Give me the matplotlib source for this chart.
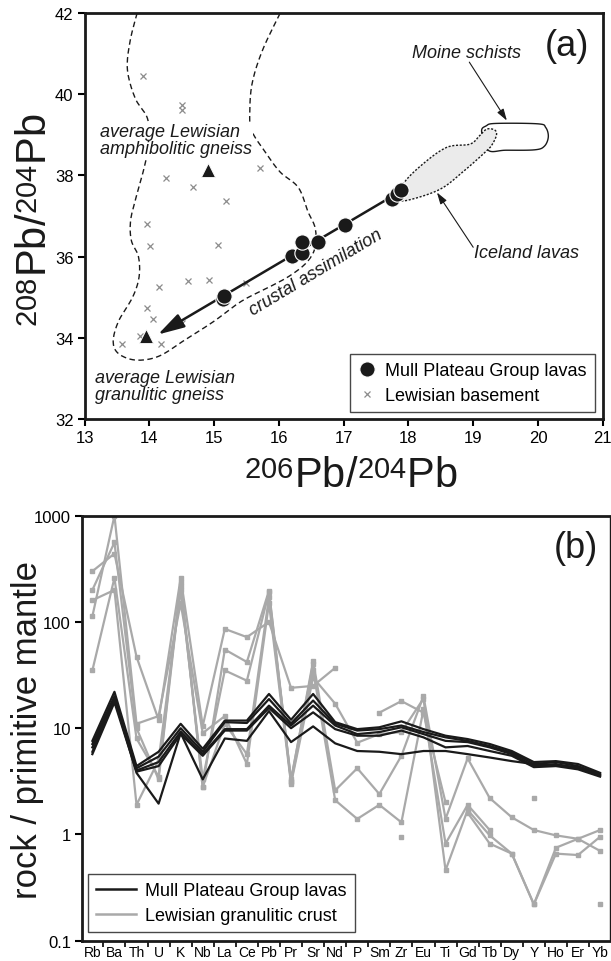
import numpy as np
import matplotlib
matplotlib.use('Agg')
import matplotlib.pyplot as plt
from matplotlib.ticker import FixedLocator, NullLocator, NullFormatter
import matplotlib._mathtext as _mt

plt.rcParams['font.family'] = ['Liberation Sans', 'DejaVu Sans']
plt.rcParams['mathtext.fontset'] = 'custom'
plt.rcParams['mathtext.rm'] = 'Liberation Sans'
plt.rcParams['mathtext.it'] = 'Liberation Sans:italic'
plt.rcParams['mathtext.default'] = 'regular'
# lower the superscripts so the isotope numbers sit level with the letters
_mt.FontConstantsBase.sup1 = 0.35
_mt.DejaVuSansFontConstants.sup1 = 0.35

nan = np.nan

# ---------------- panel (a) data ----------------
mull_x = [15.13, 15.15, 16.20, 16.35, 16.35, 16.61, 17.02, 17.74, 17.82, 17.89]
mull_y = [34.95, 35.02, 36.01, 36.10, 36.37, 36.37, 36.78, 37.42, 37.55, 37.65]

lewis_x = [13.90, 14.51, 14.51, 14.26, 14.68, 15.71, 15.18, 13.96, 14.01, 15.06,
           14.15, 14.59, 14.92, 15.49, 13.96, 14.05, 14.50, 13.85, 13.57, 14.18]
lewis_y = [40.44, 39.73, 39.61, 37.94, 37.72, 38.17, 37.37, 36.81, 36.27, 36.29,
           35.24, 35.41, 35.43, 35.35, 34.73, 34.47, 34.36, 34.04, 33.85, 33.85]

avg_x = [14.91, 13.94]
avg_y = [38.14, 34.04]

lewis_field_x = [13.81, 13.70, 13.66, 13.78, 13.97, 13.99, 13.92, 13.80, 13.71, 13.72, 13.83,
                 13.84, 13.74, 13.52, 13.44, 13.53, 13.80, 14.15, 14.55, 14.99, 15.42, 15.85,
                 16.17, 16.43, 16.56, 16.56, 16.45, 16.30, 16.02, 15.80, 15.58, 15.55, 15.59,
                 15.75, 16.02]
lewis_field_y = [42.0, 41.3, 40.6, 39.9, 39.4, 38.8, 38.2, 37.5, 36.9, 36.4, 36.0,
                 35.5, 35.0, 34.4, 33.9, 33.6, 33.45, 33.55, 33.95, 34.40, 34.90, 35.25,
                 35.53, 35.86, 36.23, 36.70, 37.10, 37.70, 38.08, 38.55, 39.10, 39.60, 40.30,
                 41.10, 42.0]

iceland_x = [17.87, 17.92, 18.20, 18.59, 18.95, 19.10, 19.21, 19.33, 19.36, 19.30, 19.21, 18.85, 18.49, 18.02]
iceland_y = [37.42, 37.79, 38.25, 38.69, 38.77, 38.98, 39.14, 39.12, 39.00, 38.78, 38.61, 38.10, 37.66, 37.40]

moine_x = [19.13, 19.20, 19.35, 20.00, 20.12, 20.16, 20.10, 19.95, 19.50, 19.23]
moine_y = [39.08, 39.22, 39.28, 39.27, 39.18, 38.95, 38.72, 38.63, 38.62, 38.62]

trend_start = (17.85, 37.58)
trend_end = (14.13, 34.08)

# ---------------- panel (b) data ----------------
elements = ['Rb', 'Ba', 'Th', 'U', 'K', 'Nb', 'La', 'Ce', 'Pb', 'Pr', 'Sr', 'Nd',
            'P', 'Sm', 'Zr', 'Eu', 'Ti', 'Gd', 'Tb', 'Dy', 'Y', 'Ho', 'Er', 'Yb']

mull_1 = [7.6, 22, 4.4, 6.0, 11, 6.4, 11.8, 11.8, 21, 12, 21, 11.4, 9.8, 10.2, 11.6, 9.8, 8.5, 7.9, 7.1, 6.1, 4.8, 4.9, 4.6, 3.8]
mull_2 = [7.1, 20, 4.2, 5.4, 10, 6.0, 11.4, 11.2, 18.8, 11.1, 18.2, 11.0, 9.5, 9.8, 10.6, 9.2, 8.2, 7.6, 6.8, 5.9, 4.6, 4.8, 4.4, 3.7]
mull_3 = [6.6, 19, 4.0, 4.8, 9.3, 5.7, 9.8, 9.8, 16.3, 10.6, 16.3, 10.6, 8.8, 9.2, 10.2, 8.8, 7.6, 7.4, 6.6, 5.7, 4.4, 4.6, 4.2, 3.6]
mull_4 = [5.7, 17.5, 3.9, 4.4, 8.8, 5.5, 9.5, 9.5, 15.5, 10.0, 14.1, 9.8, 8.5, 8.5, 9.5, 8.2, 6.6, 6.8, 6.1, 5.5, 4.3, 4.4, 4.1, 3.5]
mull_5 = [6.0, 19, 3.8, 1.95, 9.0, 3.3, 8.0, 7.6, 14.5, 7.4, 10.4, 7.2, 6.1, 6.0, 5.7, 6.1, 6.1, 5.7, 5.3, 4.9, 4.6, 4.5, 4.3, 3.6]

lew_1 = [300, 440, 47, 12, 260, 10.5, 86, 72, 100, 24, 25, 37, nan, 14, 18, 14, 2.0, nan, nan, nan, 2.2, nan, nan, nan]
lew_2 = [200, 560, 10, 3.3, 220, 2.8, 55, 42, 197, 3.2, 43, 2.6, 4.2, 2.4, 5.5, 20, 1.4, 5.2, 2.2, 1.45, 1.1, 0.98, 0.91, 0.70]
lew_3 = [160, 200, 1.9, 5.0, 200, 3.3, 35, 28, 190, 3.1, 35, 2.1, 1.4, 1.9, 1.3, 15, 0.82, 1.9, 1.1, nan, nan, nan, nan, 0.22]
lew_4 = [113, 1000, 11, 13, 150, 9.0, 13, 4.6, 150, 3.0, 30, 17, 7.3, 8.8, 9.2, 19, 0.46, 1.7, 0.98, 0.66, 0.22, 0.75, 0.91, 1.1]
lew_5 = [35, 260, 8.0, 3.5, 240, 2.8, 11, 5.7, 170, 3.3, 40, nan, nan, nan, 0.94, nan, nan, 1.6, 0.82, 0.66, 0.22, 0.66, 0.64, 0.95]

mull_series = [mull_1, mull_2, mull_3, mull_4, mull_5]
lew_series = [lew_1, lew_2, lew_3, lew_4, lew_5]

BLACK = '#1a1a1a'
GREY = '#a9a9a9'


def catmull(xs, ys, closed=False, n=10):
    P = np.column_stack([xs, ys]).astype(float)
    if closed:
        P = np.vstack([P[-1], P, P[0], P[1]])
    else:
        P = np.vstack([P[0], P, P[-1]])
    out = []
    for i in range(1, len(P) - 2):
        p0, p1, p2, p3 = P[i - 1], P[i], P[i + 1], P[i + 2]
        for t in np.linspace(0, 1, n, endpoint=False):
            t2 = t * t
            t3 = t2 * t
            out.append(0.5 * (2 * p1 + (-p0 + p2) * t + (2 * p0 - 5 * p1 + 4 * p2 - p3) * t2
                              + (-p0 + 3 * p1 - 3 * p2 + p3) * t3))
    out.append(P[-2])
    out = np.array(out)
    return out[:, 0], out[:, 1]


W, H = 611, 962
fig = plt.figure(figsize=(W / 100, H / 100), dpi=100)

# ================= panel (a) =================
axa = fig.add_axes([84.7 / W, 1 - 420 / H, (602.7 - 84.7) / W, (420 - 14) / H])
axa.set_xlim(13, 21)
axa.set_ylim(32, 42)
axa.xaxis.set_major_locator(FixedLocator(range(13, 22)))
axa.yaxis.set_major_locator(FixedLocator(range(32, 43, 2)))
axa.tick_params(direction='out', length=5, width=1.5, labelsize=12, pad=3)
for s in axa.spines.values():
    s.set_linewidth(2.0)
    s.set_color(BLACK)

# Lewisian field (dashed)
fx, fy = catmull(lewis_field_x, lewis_field_y, closed=False, n=10)
axa.plot(fx, fy, color=BLACK, lw=1.0, ls=(0, (4, 2.5)), zorder=1)

# Moine schists field
mx, my = catmull(moine_x, moine_y, closed=True, n=10)
axa.fill(mx, my, facecolor='white', edgecolor=BLACK, lw=1.0, zorder=1)
# Iceland lavas field
ix, iy = catmull(iceland_x, iceland_y, closed=True, n=10)
axa.fill(ix, iy, facecolor='#ebebeb', edgecolor=BLACK, lw=1.0, ls=(0, (1.5, 1.2)), zorder=1.5)

# Lewisian basement crosses
axa.plot(lewis_x, lewis_y, ls='none', marker='x', ms=5, mew=0.9, color='#8c8c8c', zorder=2)

# crustal assimilation trend arrow
axa.annotate('', xy=trend_end, xytext=trend_start,
             arrowprops=dict(arrowstyle='-|>,head_length=1.6,head_width=0.45', lw=1.8,
                             color=BLACK, shrinkA=0, shrinkB=0), zorder=3)

# averages
axa.plot(avg_x, avg_y, ls='none', marker='^', ms=10, color=BLACK, mec='white', mew=0.6, zorder=4)
# Mull lavas
axa.plot(mull_x, mull_y, ls='none', marker='o', ms=11, color=BLACK, mec='white', mew=0.8, zorder=5)

txt_kw = dict(fontsize=13, style='italic', color=BLACK)
axa.text(13.24, 38.87, 'average Lewisian\namphibolitic gneiss', ha='left', va='center',
         linespacing=1.05, bbox=dict(facecolor='white', edgecolor='none', pad=0.5), zorder=3, **txt_kw)
axa.text(13.16, 32.81, 'average Lewisian\ngranulitic gneiss', ha='left', va='center',
         linespacing=1.05, zorder=3, **txt_kw)
axa.text(16.57, 35.61, 'crustal assimilation', ha='center', va='center', rotation=31,
         rotation_mode='anchor', zorder=3, **txt_kw)
axa.text(18.9, 41.03, 'Moine schists', ha='center', va='center', zorder=3, **txt_kw)
axa.text(19.83, 36.11, 'Iceland lavas', ha='center', va='center', zorder=3, **txt_kw)
axa.annotate('', xy=(19.52, 39.35), xytext=(18.94, 40.79),
             arrowprops=dict(arrowstyle='-|>,head_length=0.7,head_width=0.22', lw=0.8,
                             color=BLACK, shrinkA=0, shrinkB=0))
axa.annotate('', xy=(18.44, 37.58), xytext=(19.0, 36.23),
             arrowprops=dict(arrowstyle='-|>,head_length=0.7,head_width=0.22', lw=0.8,
                             color=BLACK, shrinkA=0, shrinkB=0))
axa.text(20.45, 41.2, '(a)', ha='center', va='center', fontsize=26, color=BLACK)

h1, = axa.plot([], [], ls='none', marker='o', ms=11, color=BLACK, mec='white', mew=0.8)
h2, = axa.plot([], [], ls='none', marker='x', ms=5, mew=0.9, color='#8c8c8c')
leg = axa.legend([h1, h2], ['Mull Plateau Group lavas', 'Lewisian basement'],
                 loc='lower right', bbox_to_anchor=(0.985, 0.0165), borderaxespad=0,
                 fontsize=13, frameon=True, fancybox=False, handlelength=1.0,
                 handletextpad=0.5, labelspacing=0.45, borderpad=0.45)
leg.get_frame().set_edgecolor(BLACK)
leg.get_frame().set_linewidth(1.0)

fig.text(46 / W, 1 - 220 / H, r'$^{208}$Pb/$^{204}$Pb', rotation=90, rotation_mode='anchor',
         ha='center', va='baseline', fontsize=30, color=BLACK)
fig.text(351 / W, 1 - 487 / H, r'$^{206}$Pb/$^{204}$Pb', ha='center', va='baseline',
         fontsize=30, color=BLACK)

# ================= panel (b) =================
axb = fig.add_axes([82 / W, 1 - 941.7 / H, (610 - 82) / W, (941.7 - 516.7) / H])
axb.set_yscale('log')
axb.set_ylim(0.1, 1000)
xpos = np.arange(len(elements))
axb.set_xlim(-0.47, 23.45)

for s in lew_series:
    axb.plot(xpos, s, color=GREY, lw=1.6, marker='s', ms=2.2, zorder=2)
for s in mull_series:
    axb.plot(xpos, s, color=BLACK, lw=1.6, zorder=3)

axb.yaxis.set_major_locator(FixedLocator([0.1, 1, 10, 100, 1000]))
axb.set_yticklabels(['0.1', '1', '10', '100', '1000'])
axb.yaxis.set_minor_locator(NullLocator())
axb.yaxis.set_minor_formatter(NullFormatter())
axb.xaxis.set_major_locator(FixedLocator(xpos))
axb.set_xticklabels(elements)
axb.xaxis.set_minor_locator(FixedLocator(xpos[:-1] + 0.5))
axb.tick_params(axis='x', which='major', length=0, labelsize=10, pad=3)
axb.tick_params(axis='x', which='minor', direction='out', length=4, width=1.2)
axb.tick_params(axis='y', which='major', direction='out', length=5, width=1.5, labelsize=12, pad=3)
for name, s in axb.spines.items():
    s.set_linewidth(2.0)
    s.set_color(BLACK)
axb.spines['right'].set_linewidth(1.0)

axb.text(0.936, 0.924, '(b)', transform=axb.transAxes, ha='center', va='center',
         fontsize=26, color=BLACK)

l1, = axb.plot([], [], color=BLACK, lw=1.8)
l2, = axb.plot([], [], color=GREY, lw=1.8)
legb = axb.legend([l1, l2], ['Mull Plateau Group lavas', 'Lewisian granulitic crust'],
                  loc='lower left', bbox_to_anchor=(0.012, 0.0198), borderaxespad=0,
                  fontsize=13, frameon=True, fancybox=False, handlelength=2.2,
                  handletextpad=0.5, labelspacing=0.45, borderpad=0.45)
legb.get_frame().set_edgecolor(BLACK)
legb.get_frame().set_linewidth(1.0)

fig.text(37 / W, 1 - 730 / H, 'rock / primitive mantle', rotation=90, rotation_mode='anchor',
         ha='center', va='baseline', fontsize=25, color=BLACK)

fig.savefig('out.png', dpi=100)
